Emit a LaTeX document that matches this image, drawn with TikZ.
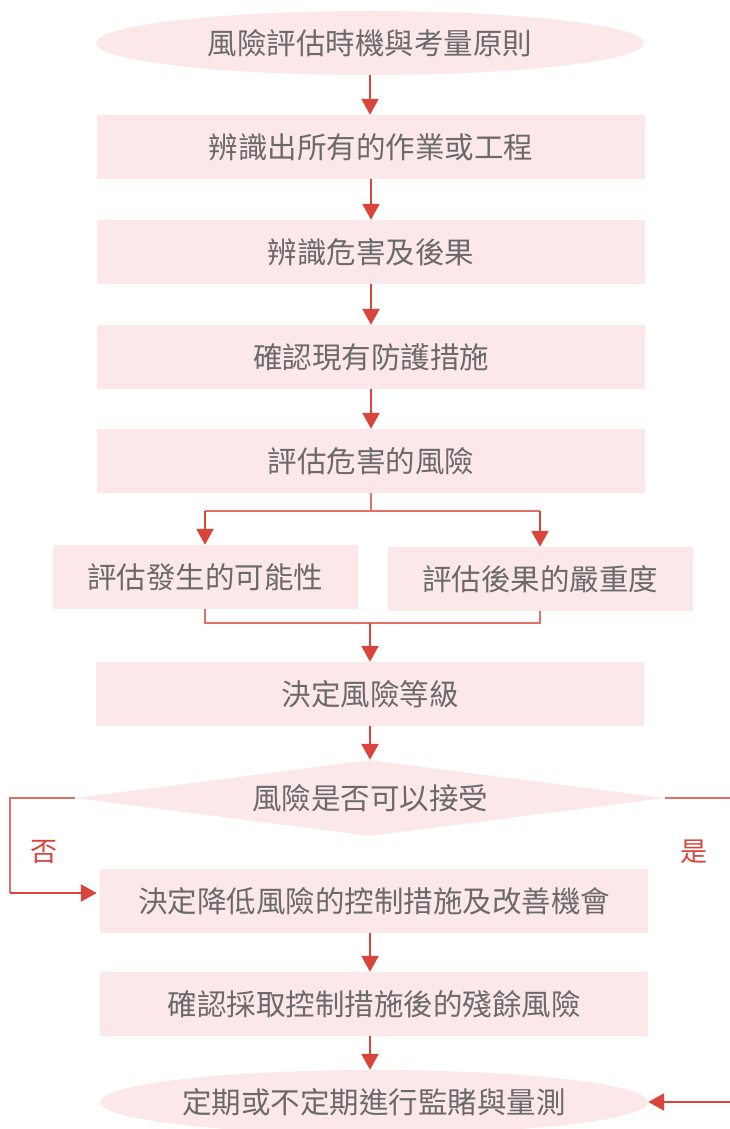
\documentclass[tikz,border=0pt]{standalone}
\usepackage{fontspec}
\newfontfamily\cjk{Noto Sans CJK TC}
\usepackage{tikz}
\usetikzlibrary{positioning}
\usetikzlibrary{calc}
\usetikzlibrary{shapes.geometric}
\usetikzlibrary{arrows.meta}
\definecolor{boxpink}{HTML}{FCE8E8}
\definecolor{arrowred}{HTML}{D9443B}
\definecolor{linkred}{HTML}{E07068}
\definecolor{textgray}{HTML}{6A6A6A}

\begin{document}
\begin{tikzpicture}[x=1pt, y=-1pt,
  box/.style={rectangle, fill=boxpink, minimum width=548pt, minimum height=64pt, inner sep=0pt,
    text=textgray, font=\cjk\fontsize{29.5}{33}\selectfont},
  oval/.style={box, ellipse},
  halfbox/.style={box, minimum width=305pt},
  arrow/.style={draw=arrowred, line width=2.4pt, -{Triangle[width=17pt,length=16pt]}},
  link/.style={draw=linkred, line width=1.6pt},
  answer/.style={text=arrowred, font=\cjk\fontsize{27}{30}\selectfont}]
\useasboundingbox (0,0) rectangle (730,1129);
% -- main column --
\node[oval] (start) at (370,43) {風險評估時機與考量原則};
\node[box] (identify) at (371,147) {辨識出所有的作業或工程};
\node[box] (hazard) at (371,252) {辨識危害及後果};
\node[box] (protect) at (371,357) {確認現有防護措施};
\node[box] (evalrisk) at (371,461) {評估危害的風險};
\draw[arrow] (start.south) -- (start.south |- identify.north);
\draw[arrow] (identify) -- (hazard);
\draw[arrow] (hazard) -- (protect);
\draw[arrow] (protect) -- (evalrisk);
% -- split into two --
\node[halfbox] (likely) at (205,577) {評估發生的可能性};
\node[halfbox] (severe) at (540,579) {評估後果的嚴重度};
\draw[link] (evalrisk.south) -- ++(0,18) coordinate (split);
\draw[link] (split) -- (split -| likely.north);
\draw[link] (split) -- (split -| severe.north);
\draw[arrow] (split -| likely.north) -- (likely.north);
\draw[arrow] (split -| severe.north) -- (severe.north);
% -- merge again --
\node[box] (level) at (370,694) {決定風險等級};
\draw[link] (likely.south) -- ++(0,14) coordinate (merge) -| (severe.south);
\draw[arrow] (merge -| level.north) -- (level.north);
% -- decision --
\node[diamond, fill=boxpink, minimum width=590pt, minimum height=76pt, aspect=7.8, inner sep=0pt,
  text=textgray, font=\cjk\fontsize{29.5}{33}\selectfont] (accept) at (370,798) {風險是否可以接受};
\draw[arrow] (level) -- (accept);
\node[box] (control) at (374,901) {決定降低風險的控制措施及改善機會};
\node[box] (residual) at (374,1004) {確認採取控制措施後的殘餘風險};
\node[oval] (monitor) at (374,1102) {定期或不定期進行監賭與量測};
\draw[arrow] ($(control.south)+(-4,0)$) -- ($(residual.north)+(-4,0)$);
\draw[arrow] ($(residual.south)+(-4,0)$) -- ($(monitor.north)+(-4,0)$);
% -- no: to control measures --
\draw[link] (accept.west) -- ++(-65,0) coordinate (nocorner) -- (nocorner |- {$(control.west)+(0,-8)$}) coordinate (noturn);
\draw[arrow] (noturn) -- ($(control.west)+(-3,-8)$);
\node[answer] (no) at (44,852) {否};
% -- yes: back to monitoring --
\coordinate (yesout) at (730,798);
\coordinate (yesin) at (730,1102);
\draw[link] (accept.east) -- (yesout);
\draw[arrow] (yesin) -- (monitor.east);
\node[answer] (yes) at (694,852) {是};
\end{tikzpicture}
\end{document}
